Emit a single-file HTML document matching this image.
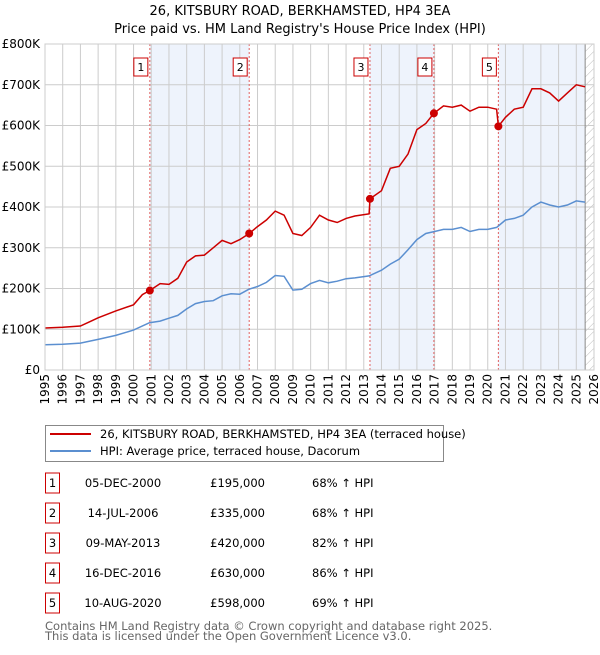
<!DOCTYPE html>
<html><head><meta charset="utf-8"><style>
body{margin:0;background:#fff;font-family:"Liberation Sans","DejaVu Sans",sans-serif;}
svg text{font-family:"DejaVu Sans","Liberation Sans",sans-serif;}
</style></head><body>
<svg id="c" width="600" height="650" xmlns="http://www.w3.org/2000/svg">
<defs><pattern id="hatch" width="6" height="6" patternUnits="userSpaceOnUse" patternTransform="rotate(45)"><line x1="0" y1="0" x2="0" y2="6" stroke="#bbb" stroke-width="1"/></pattern></defs>
<text x="300" y="15" text-anchor="middle" font-size="13">26, KITSBURY ROAD, BERKHAMSTED, HP4 3EA</text>
<text x="300" y="33" text-anchor="middle" font-size="13">Price paid vs. HM Land Registry's House Price Index (HPI)</text>
<g id="plot"></g>
<g>
<rect x="45.5" y="425.5" width="398" height="36" fill="#fff" stroke="#888"/>
<line x1="50" y1="434" x2="91" y2="434" stroke="#cc0000" stroke-width="2"/>
<text x="100" y="438" font-size="11.5">26, KITSBURY ROAD, BERKHAMSTED, HP4 3EA (terraced house)</text>
<line x1="50" y1="451" x2="91" y2="451" stroke="#5b8fd0" stroke-width="2"/>
<text x="100" y="455" font-size="11.5">HPI: Average price, terraced house, Dacorum</text>
</g>
<g id="table" font-size="11.5"></g>
<text x="45" y="630" font-size="11.5" fill="#666">Contains HM Land Registry data © Crown copyright and database right 2025.</text>
<text x="45" y="640" font-size="11.5" fill="#666">This data is licensed under the Open Government Licence v3.0.</text>
</svg>
<script>
const hpiYears=[1995,1996,1997,1998,1999,2000,2000.9,2001.5,2002,2002.5,2003,2003.5,2004,2004.5,2005,2005.5,2006,2006.5,2007,2007.5,2008,2008.5,2009,2009.5,2010,2010.5,2011,2011.5,2012,2012.5,2013.3,2014,2014.5,2015,2015.5,2016,2016.5,2017,2017.5,2018,2018.5,2019,2019.5,2020,2020.5,2021,2021.5,2022,2022.5,2023,2023.5,2024,2024.5,2025,2025.5];
const hpiValues=[62,63,66,75,85,98,116,120,127,134,150,163,168,170,182,187,186,198,205,215,232,230,196,198,212,220,214,218,224,226,231,245,260,272,295,320,335,340,345,345,350,340,345,345,350,368,372,380,400,412,405,400,405,415,412];
const propYears=[1995,1996,1997,1997.5,1998,1999,2000,2000.5,2000.92,2001.5,2002,2002.5,2003,2003.5,2004,2004.5,2005,2005.5,2006,2006.53,2007,2007.5,2008,2008.5,2009,2009.5,2010,2010.5,2011,2011.5,2012,2012.5,2013.3,2013.35,2014,2014.5,2015,2015.5,2016,2016.5,2016.96,2017.5,2018,2018.5,2019,2019.5,2020,2020.5,2020.6,2021,2021.5,2022,2022.5,2023,2023.5,2024,2024.5,2025,2025.5];
const propValues=[103,105,108,118,128,145,160,185,195,212,210,225,265,280,282,300,318,310,320,335,352,368,390,380,335,330,350,380,368,362,372,378,383,420,440,495,500,530,590,605,630,648,645,650,635,645,645,640,598,620,640,645,690,690,680,660,680,700,695];
const saleLabels=["1","2","3","4","5"];
const saleYears=[2000.92,2006.53,2013.35,2016.96,2020.6];
const saleValues=[195,335,420,630,598];
const saleDates=["05-DEC-2000","14-JUL-2006","09-MAY-2013","16-DEC-2016","10-AUG-2020"];
const salePrices=["£195,000","£335,000","£420,000","£630,000","£598,000"];
const saleHpi=["68% ↑ HPI","68% ↑ HPI","82% ↑ HPI","86% ↑ HPI","69% ↑ HPI"];
const yTicks=[0,100,200,300,400,500,600,700,800];
const yTickLabels=["£0","£100K","£200K","£300K","£400K","£500K","£600K","£700K","£800K"];
const xTicks=[1995,1996,1997,1998,1999,2000,2001,2002,2003,2004,2005,2006,2007,2008,2009,2010,2011,2012,2013,2014,2015,2016,2017,2018,2019,2020,2021,2022,2023,2024,2025,2026];

const L=45,R=594,T=44,B=370,X0=1995,X1=2026,YMAX=800,DATA_END=2025.5;
const xs=v=>L+(v-X0)/(X1-X0)*(R-L);
const ys=v=>B-v/YMAX*(B-T);
const NS="http://www.w3.org/2000/svg";
const plot=document.getElementById('plot');
function mk(tag,at,parent){const e=document.createElementNS(NS,tag);for(const k in at)e.setAttribute(k,at[k]);(parent||plot).appendChild(e);return e;}

let bg=mk('rect',{x:L,y:T,width:R-L,height:B-T,fill:'#fff'});


const bands=[[0,1],[2,3],[4,null]];
bands.forEach((b,i)=>{
  const x1=xs(saleYears[b[0]]),x2=b[1]===null?xs(DATA_END):xs(saleYears[b[1]]);
  const r=mk('rect',{x:x1,y:T,width:x2-x1,height:B-T,fill:'#eef3fc'});
  
  
});
let h=mk('rect',{x:xs(DATA_END),y:T,width:R-xs(DATA_END),height:B-T,fill:'url(#hatch)'});


xTicks.forEach((t,i)=>{
  const g=mk('line',{x1:xs(t),x2:xs(t),y1:T,y2:B,stroke:'#ccc','stroke-width':1});
  
  
  const tx=mk('text',{x:0,y:0,'font-size':12,'text-anchor':'end',transform:`translate(${xs(t)+4},${B+4}) rotate(-90)`});
  tx.textContent=t;
  
  
});
yTicks.forEach((t,i)=>{
  const g=mk('line',{x1:L,x2:R,y1:ys(t),y2:ys(t),stroke:'#ccc','stroke-width':1});
  
  
  const tx=mk('text',{x:40,y:ys(t)+4,'font-size':12,'text-anchor':'end'});
  tx.textContent=yTickLabels[i];
  
  
});
let dl=mk('line',{x1:xs(DATA_END),x2:xs(DATA_END),y1:T,y2:B,stroke:'#888','stroke-width':1});


saleYears.forEach((y,i)=>{
  const l=mk('line',{x1:xs(y),x2:xs(y),y1:T,y2:B,stroke:'#e06060','stroke-width':1,'stroke-dasharray':'2,2'});
  
  
  const bx=mk('rect',{x:xs(y)-16,y:58,width:14,height:18,fill:'#fff',stroke:'#cc0000'});
  
  
  const t=mk('text',{x:xs(y)-9,y:71,'font-size':11,'text-anchor':'middle'});
  t.textContent=saleLabels[i];
  
  
});
const path=(xa,va)=>xa.map((x,i)=>(i?'L':'M')+xs(x).toFixed(1)+','+ys(va[i]).toFixed(1)).join('');
let hp=mk('path',{d:path(hpiYears,hpiValues),fill:'none',stroke:'#5b8fd0','stroke-width':1.5});


let pp=mk('path',{d:path(propYears,propValues),fill:'none',stroke:'#cc0000','stroke-width':1.5});


saleYears.forEach((y,i)=>{
  const c=mk('circle',{cx:xs(y),cy:ys(saleValues[i]),r:4,fill:'#cc0000'});
  
  
});
let fr=mk('rect',{x:L,y:T,width:R-L,height:B-T,fill:'none',stroke:'#ccc'});



const tb=document.getElementById('table');
saleLabels.forEach((s,i)=>{
  const y=473+i*30;
  const r=mk('rect',{x:45.5,y:y,width:14,height:20,fill:'#fff',stroke:'#cc0000'},tb);
  
  
  const cells=[[52.5,s,'middle'],[123,saleDates[i],'middle'],[265,salePrices[i],'end'],[312,saleHpi[i],'start']];
  cells.forEach((c,j)=>{
    const t=mk('text',{x:c[0],y:y+14,'text-anchor':c[2]},tb);
    t.textContent=c[1];
    
    
  });
});
</script>
</body></html>
